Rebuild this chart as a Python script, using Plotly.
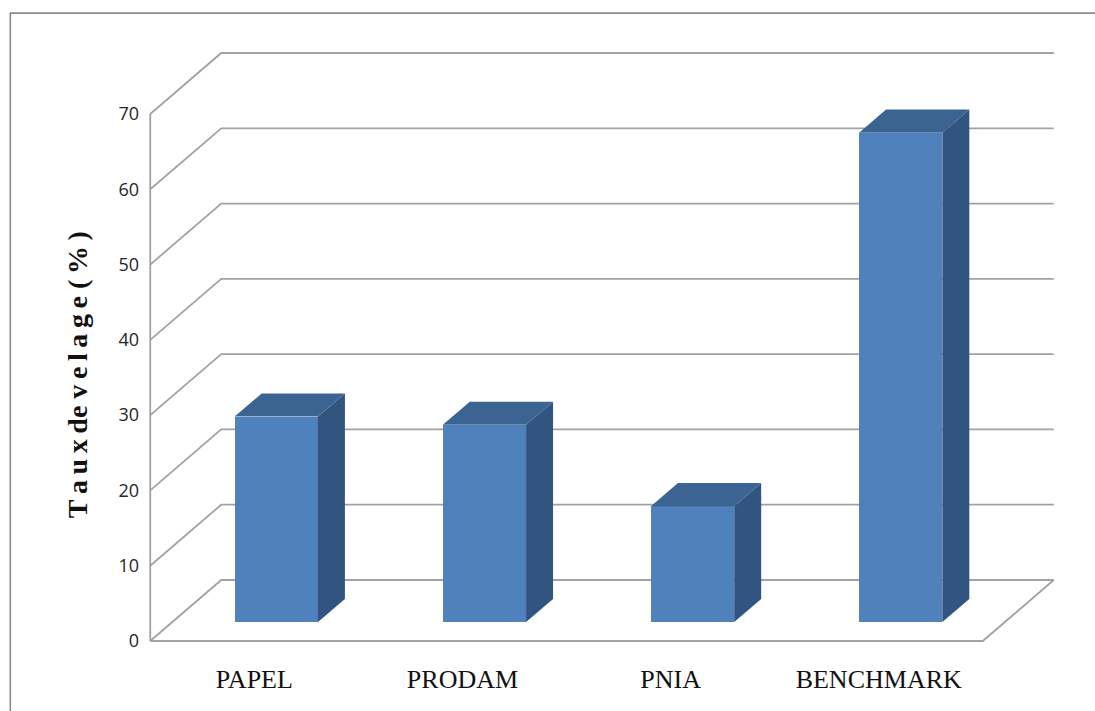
import plotly.graph_objects as go

# ---- data ----
categories = ["PAPEL", "PRODAM", "PNIA", "BENCHMARK"]
values = [27.3, 26.2, 15.4, 65.0]
y_ticks = [0, 10, 20, 30, 40, 50, 60, 70]
y_title = "T\u2009a\u2009u\u2009x\u2009de v\u2009e\u2009l\u2009a\u2009g\u2009e (\u2009%\u2009)"

# ---- 3D oblique projection parameters (data units) ----
DX = 0.341   # depth shift along x (category units) for full depth
DY = 8.1     # depth shift along y (value units) for full depth
D0, D1 = 0.31, 0.69   # bar depth span (fraction of floor depth)
BW = 0.40    # bar width (category units)

# pixel geometry
W, H = 1095, 711
X0PX, UX = 150.0, 208.25   # px of x=0, px per category
Y0PX, UY = 641.0, 7.53     # px of y=0, px per value unit
xr = [-0.03, 4 + DX + 0.03]
yr = [-0.4, 70 + DY + 0.4]
ml = X0PX + xr[0] * UX
mr = W - (X0PX + xr[1] * UX)
mt = Y0PX - yr[1] * UY
mb = H - (Y0PX - yr[0] * UY)

FRONT = "#4F81BD"
SIDE = "#32557F"
TOP = "#3C6493"
GRID = "#a2a2a2"

fig = go.Figure()

# front faces
fig.add_trace(go.Bar(
    x=[i + 0.5 + D0 * DX for i in range(len(categories))],
    y=values,
    base=D0 * DY,
    width=BW,
    marker=dict(color=FRONT, line=dict(width=0)),
    hoverinfo="skip",
    showlegend=False,
))

# side and top faces
for i, v in enumerate(values):
    xl = i + 0.5 - BW / 2
    xrt = i + 0.5 + BW / 2
    fig.add_trace(go.Scatter(
        x=[xrt + D0 * DX, xrt + D1 * DX, xrt + D1 * DX, xrt + D0 * DX, xrt + D0 * DX],
        y=[D0 * DY, D1 * DY, v + D1 * DY, v + D0 * DY, D0 * DY],
        fill="toself", fillcolor=SIDE, mode="lines", line=dict(width=0, color=SIDE),
        hoverinfo="skip", showlegend=False,
    ))
    fig.add_trace(go.Scatter(
        x=[xl + D0 * DX, xrt + D0 * DX, xrt + D1 * DX, xl + D1 * DX, xl + D0 * DX],
        y=[v + D0 * DY, v + D0 * DY, v + D1 * DY, v + D1 * DY, v + D0 * DY],
        fill="toself", fillcolor=TOP, mode="lines", line=dict(width=0, color=TOP),
        hoverinfo="skip", showlegend=False,
    ))

shapes = []
n = len(categories)
# gridlines: left wall diagonal + back wall horizontal
for t in y_ticks:
    shapes.append(dict(type="path", xref="x", yref="y", layer="below",
                       path=f"M 0,{t} L {DX},{t + DY} L {n + DX},{t + DY}",
                       line=dict(color=GRID, width=1.8)))
# left front vertical axis line
shapes.append(dict(type="line", xref="x", yref="y", layer="below",
                   x0=0, y0=0, x1=0, y1=y_ticks[-1],
                   line=dict(color=GRID, width=1.8)))
# floor front edge and right edge
shapes.append(dict(type="path", xref="x", yref="y", layer="below",
                   path=f"M 0,0 L {n},0 L {n + DX},{DY}",
                   line=dict(color=GRID, width=1.8)))

# outer chart border (top and left)
pw = W - ml - mr
ph = H - mt - mb
def px2paper_x(px):
    return (px - ml) / pw
def px2paper_y(py):
    return (H - mb - py) / ph
bx0 = px2paper_x(10)
by0 = px2paper_y(13)
shapes.append(dict(type="path", xref="paper", yref="paper", layer="above",
                   path=f"M {bx0},{px2paper_y(730)} L {bx0},{by0} L {px2paper_x(1120)},{by0}",
                   line=dict(color="#8c8c8c", width=1.6)))

fig.update_layout(
    width=W, height=H,
    margin=dict(l=ml, r=mr, t=mt, b=mb, pad=0),
    paper_bgcolor="white", plot_bgcolor="white",
    shapes=shapes,
    showlegend=False,
    bargap=0,
    xaxis=dict(
        range=xr, showgrid=False, zeroline=False, showline=False,
        tickmode="array", tickvals=[i + 0.5 for i in range(n)], ticktext=categories,
        ticks="", ticklabelstandoff=17,
        tickfont=dict(family="Liberation Serif", size=26, color="#111111"),
        fixedrange=True,
    ),
    yaxis=dict(
        range=yr, showgrid=False, zeroline=False, showline=False,
        tickmode="array", tickvals=y_ticks, ticktext=[str(t) for t in y_ticks],
        ticks="", ticklabelstandoff=4,
        tickfont=dict(family="Open Sans", size=18, color="#262626"),
        fixedrange=True,
    ),
    annotations=[dict(
        text=f"<b>{y_title}</b>", xref="paper", yref="paper",
        x=px2paper_x(77), y=px2paper_y(375), xanchor="center", yanchor="middle",
        textangle=-90, showarrow=False,
        font=dict(family="Liberation Serif", size=28, color="#111111"),
    )],
)

fig.write_html("out.html")
